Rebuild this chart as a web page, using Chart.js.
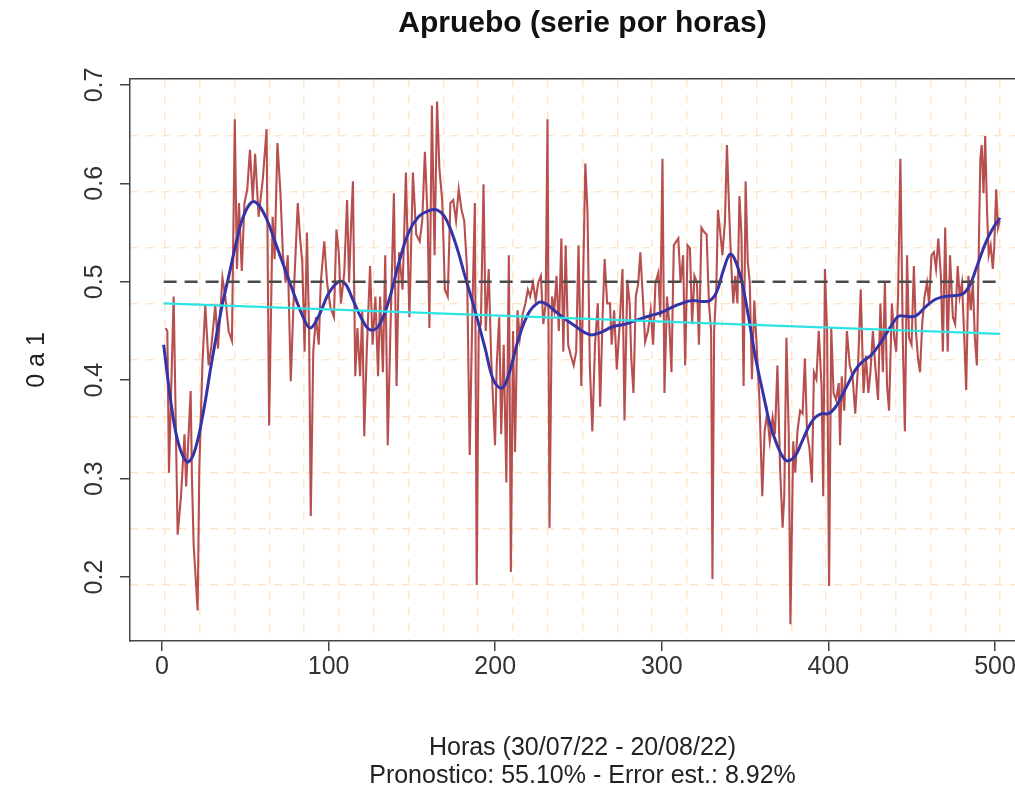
<!DOCTYPE html>
<html>
<head>
<meta charset="utf-8">
<script src="https://cdn.jsdelivr.net/npm/chart.js@4/dist/chart.umd.min.js"></script>
<style>
  html, body { margin: 0; padding: 0; overflow: hidden; background: #ffffff; }
  canvas { display: block; }
</style>
</head>
<body>
<canvas id="chart" width="1040" height="793"></canvas>
<script>
// Axis ticks and ranges
const hourTicks = [0, 100, 200, 300, 400, 500];
const levelTicks = [0.2, 0.3, 0.4, 0.5, 0.6, 0.7];
const hourRange = [-19.2, 524];
const levelRange = [0.135, 0.706];
const gridColumns = 26;
const gridRows = 10;

// Hourly series (hour, share 0..1)
const rawHours = [
  2.1,3.2,4.2,7,9.4,11.4,13.5,14.5,17.2,18,19,21.4,22.4,24.3,26,28,29.6,32,33.6,36.3,38,40,42,43.7,45,46.2,47.9,49.5,51.2,52.8,54.5,55.9,58,60.5,
  62.8,64.3,66.4,67.6,69.3,71.1,72.6,74.2,75.5,77.3,79.4,81.5,82.9,84.2,85.6,87,88.3,89.3,90.8,92.4,94.1,95.3,97.4,99.1,101.1,103.2,104.7,106.1,107.4,109.4,111.1,112.3,113.6,114.6,116,117.3,118.9,120.2,121.4,122.9,124.9,126.4,128.1,129.7,
  130.9,132.6,134,135.5,137.1,139.2,140.8,142.3,144.4,146.4,148.5,150.6,152.6,154.7,156.2,157.8,159.5,160.5,162,163.6,165.1,166.5,168.2,169.8,171.5,173.1,174.8,176.5,178.1,179.8,181.4,183.1,184.7,186.4,187.8,188.9,190.1,191.4,193,194.3,196.1,197.6,
  199.9,200.9,202.4,203.6,205.1,206.7,208.2,209.4,210.7,211.9,213.4,214.8,216.5,218.1,219.6,221,222.7,224.3,225.8,227.4,228.9,230.3,231.4,232.6,234.1,235.5,236.8,238.2,239.7,240.9,242.3,243.8,245.4,247.1,248.6,250,251.7,252.9,254.1,255.4,256.8,258.3,259.9,261.6,263,264.5,265.7,267.2,
  268.9,269.9,271.4,273,274.7,276.4,277.6,279.3,280.7,281.7,283,284.4,285.9,287.1,288.6,290,291.7,293.3,294.8,296.2,297.9,299.1,300.4,301.6,303.1,304.5,305.8,307.2,308.7,309.9,311.3,312.8,314,315.5,316.9,318.2,319.6,321.1,322.3,323.8,325.2,326.9,328.3,329.6,330.4,331.4,332.7,333.7,335.2,336.4,
  337.9,339.1,340.4,341.6,342.9,344.1,345.4,346.6,347.8,349.1,350.3,351.6,352.8,354.1,355.5,356.9,358.6,360.3,361.7,363.2,364.8,366.5,367.9,369.4,371,372.5,373.5,374.8,376.2,377.2,378.9,380.1,381.4,383,384.5,385.9,387.2,388.6,390.1,391.3,392.8,394.2,395.9,396.9,397.9,399.2,400.4,401.7,403.1,404.6,406.2,
  407,408,409.5,411.1,412.8,414.5,416.1,417.8,419.4,421.1,422.5,424,425.2,426.7,428.1,429.8,431.2,432.7,433.9,435.2,436.4,438.1,439.5,440.7,441.8,443.2,444.7,445.9,447.2,448.4,449.9,451.3,452.5,453.8,455,456.3,457.7,459.2,460.4,461.9,463.3,464.6,466,467.5,468.7,470.1,471.6,
  473,474.7,476.1,477.6,478.8,480.2,481.7,482.7,484,485.4,486.7,487.9,489.1,490.4,491.2,492,493.1,494.1,495.2,496.2,497.4,498.7,499.5,500.7,501.8,502.8
];
const rawValues = [
  0.453,0.45,0.306,0.485,0.243,0.282,0.345,0.292,0.389,0.299,0.233,0.166,0.31,0.418,0.476,0.415,0.434,0.476,0.432,0.504,0.485,0.45,0.44,0.665,0.513,0.58,0.511,0.58,0.594,0.634,0.583,0.63,0.566,0.604,
  0.655,0.354,0.566,0.523,0.641,0.59,0.527,0.499,0.527,0.399,0.499,0.58,0.544,0.52,0.429,0.55,0.45,0.262,0.429,0.464,0.436,0.499,0.541,0.499,0.474,0.464,0.553,0.53,0.478,0.509,0.583,0.499,0.562,0.602,0.404,0.453,0.404,0.471,0.343,0.429,0.516,0.436,0.485,0.404,
  0.485,0.408,0.527,0.334,0.45,0.59,0.394,0.53,0.492,0.611,0.464,0.611,0.548,0.541,0.562,0.632,0.562,0.453,0.679,0.527,0.683,0.615,0.583,0.492,0.485,0.58,0.583,0.562,0.594,0.573,0.562,0.513,0.324,0.478,0.58,0.192,0.45,0.457,0.599,0.45,0.513,0.422,
  0.334,0.415,0.464,0.345,0.436,0.296,0.527,0.205,0.45,0.327,0.471,0.443,0.467,0.478,0.492,0.485,0.499,0.481,0.499,0.506,0.457,0.478,0.665,0.25,0.485,0.471,0.506,0.45,0.544,0.429,0.537,0.436,0.425,0.415,0.429,0.537,0.394,0.513,0.62,0.571,0.415,0.348,0.436,0.478,0.373,0.467,0.523,0.478,
  0.478,0.436,0.471,0.411,0.457,0.513,0.359,0.502,0.478,0.422,0.387,0.485,0.499,0.53,0.485,0.439,0.45,0.471,0.436,0.499,0.509,0.464,0.625,0.387,0.485,0.457,0.408,0.537,0.541,0.544,0.499,0.527,0.415,0.537,0.534,0.457,0.506,0.499,0.436,0.555,0.551,0.548,0.478,0.45,0.198,0.45,0.492,0.573,0.548,0.527,
  0.562,0.639,0.573,0.52,0.478,0.506,0.478,0.587,0.548,0.394,0.602,0.52,0.499,0.401,0.481,0.436,0.38,0.282,0.348,0.366,0.338,0.362,0.345,0.415,0.31,0.25,0.282,0.443,0.345,0.152,0.338,0.306,0.348,0.369,0.366,0.422,0.345,0.331,0.296,0.408,0.401,0.45,0.394,0.282,0.513,0.45,0.191,0.453,0.387,0.38,0.397,
  0.334,0.404,0.369,0.45,0.415,0.404,0.366,0.415,0.492,0.387,0.425,0.387,0.408,0.45,0.415,0.38,0.478,0.408,0.499,0.394,0.369,0.478,0.443,0.429,0.485,0.625,0.436,0.348,0.527,0.443,0.436,0.516,0.45,0.422,0.408,0.457,0.485,0.499,0.478,0.527,0.53,0.513,0.544,0.506,0.429,0.555,0.429,
  0.527,0.464,0.457,0.516,0.485,0.499,0.436,0.39,0.506,0.471,0.499,0.443,0.415,0.548,0.625,0.639,0.59,0.648,0.573,0.527,0.537,0.513,0.534,0.594,0.555,0.562
];

// Smoothed curve
const smoothHours = [
  1,6,10,15,19,24,30,36,40,45,49,54,58,63,68,74,80,85,89,94,100,106,110,114,120,125,130,136,142,148,154,160,165,170,176,182,188,194,199,204,208,214,220,226,230,236,242,248,253,258,264,270,278,285,292,300,306,312,318,324,329,333,337,341,344,348,352,356,361,365,369,373,376,380,384,388,392,396,400,404,408,412,416,420,426,432,438,442,446,452,458,464,470,476,481,485,489,494,498,503
];
const smoothValues = [
  0.436,0.37,0.335,0.317,0.325,0.36,0.42,0.475,0.505,0.543,0.567,0.581,0.578,0.563,0.54,0.512,0.484,0.463,0.453,0.465,0.488,0.5,0.498,0.484,0.462,0.451,0.455,0.48,0.518,0.55,0.566,0.572,0.573,0.565,0.54,0.505,0.47,0.432,0.4,0.392,0.405,0.442,0.468,0.479,0.478,0.47,0.462,0.455,0.449,0.446,0.449,0.454,0.457,0.461,0.465,0.469,0.474,0.478,0.481,0.48,0.481,0.49,0.512,0.528,0.522,0.5,0.465,0.425,0.385,0.355,0.335,0.321,0.318,0.323,0.337,0.352,0.362,0.366,0.366,0.372,0.384,0.397,0.41,0.418,0.426,0.44,0.456,0.465,0.465,0.465,0.474,0.482,0.485,0.486,0.488,0.497,0.515,0.538,0.552,0.565
];

// Linear trend and 50% reference
const trendHours = [1, 503];
const trendValues = [0.478, 0.447];
const refHours = [1, 503];
const refValues = [0.5, 0.5];

const FONT = '"Liberation Sans", Arial, Helvetica, sans-serif';
Chart.defaults.font.family = FONT;

const pairs = (xs, ys) => xs.map((x, i) => ({ x: x, y: ys[i] }));
const fixedTicks = vals => scale => { scale.ticks = vals.map(v => ({ value: v })); };
const divisionTicks = n => scale => {
  const t = [];
  for (let k = 1; k < n; k++) t.push({ value: scale.min + k * (scale.max - scale.min) / n });
  scale.ticks = t;
};

const axisColor = '#444444';
const gridColor = '#FFE3C6';

new Chart(document.getElementById('chart'), {
  type: 'line',
  data: {
    datasets: [
      { data: pairs(refHours, refValues), borderColor: '#4a4a4a', borderWidth: 2.6, borderDash: [13, 8], pointRadius: 0 },
      { data: pairs(trendHours, trendValues), borderColor: '#2EE3E3', borderWidth: 2.3, pointRadius: 0 },
      { data: pairs(smoothHours, smoothValues), borderColor: '#3434A8', borderWidth: 3, pointRadius: 0, tension: 0.4 },
      { data: pairs(rawHours, rawValues), borderColor: 'rgba(172,48,48,0.85)', borderWidth: 2.1, pointRadius: 0, tension: 0 }
    ]
  },
  options: {
    responsive: false,
    animation: false,
    layout: { padding: { left: 0, right: 5, top: 0, bottom: 0 } },
    plugins: { legend: { display: false }, tooltip: { enabled: false }, title: { display: false } },
    scales: {
      x: {
        type: 'linear', position: 'bottom', min: hourRange[0], max: hourRange[1],
        afterBuildTicks: fixedTicks(hourTicks),
        afterFit: s => { s.height = 152; },
        ticks: { autoSkip: false, maxRotation: 0, padding: 1, color: '#333333', font: { size: 25 }, callback: v => String(v) },
        grid: { drawOnChartArea: false, drawTicks: true, tickLength: 10, color: axisColor, lineWidth: 1.5 },
        border: { display: true, color: axisColor, width: 1.5 },
        title: {
          display: true,
          text: ['Horas (30/07/22 - 20/08/22)', 'Pronostico: 55.10% - Error est.: 8.92%'],
          color: '#222222', font: { size: 25, lineHeight: 1.12 }, padding: { top: 0, bottom: 3 }
        }
      },
      y: {
        type: 'linear', position: 'left', min: levelRange[0], max: levelRange[1],
        afterBuildTicks: fixedTicks(levelTicks),
        afterFit: s => { s.width = 130; },
        ticks: { minRotation: 90, maxRotation: 90, crossAlign: 'center', padding: 8, color: '#333333', font: { size: 25 }, callback: v => v.toFixed(1) },
        grid: { drawOnChartArea: false, drawTicks: true, tickLength: 10, color: axisColor, lineWidth: 1.5 },
        border: { display: true, color: axisColor, width: 1.5 },
        title: { display: true, text: '0 a 1', color: '#222222', font: { size: 25, lineHeight: 1.12 }, padding: { top: 23, bottom: 0 } }
      },
      frameTop: {
        type: 'linear', position: 'top', weight: 1, min: hourRange[0], max: hourRange[1],
        afterBuildTicks: fixedTicks([]),
        afterFit: s => { s.height = 79; },
        ticks: { display: false },
        grid: { display: false },
        border: { display: true, color: axisColor, width: 1.5 },
        title: { display: true, text: 'Apruebo (serie por horas)', color: '#111111', font: { size: 30, weight: 'bold', lineHeight: 1.2 }, padding: { top: 6, bottom: 0 } }
      },
      gridX: {
        type: 'linear', position: 'top', weight: 0, min: hourRange[0], max: hourRange[1],
        afterBuildTicks: divisionTicks(gridColumns),
        afterFit: s => { s.height = 0; },
        ticks: { display: false },
        grid: { drawTicks: false, tickLength: 0, color: gridColor, lineWidth: 1.4 },
        border: { display: false, dash: [8, 8] }
      },
      gridY: {
        type: 'linear', position: 'right', min: levelRange[0], max: levelRange[1],
        afterBuildTicks: divisionTicks(gridRows),
        afterFit: s => { s.width = 0; },
        ticks: { display: false },
        grid: { drawTicks: false, tickLength: 0, color: gridColor, lineWidth: 1.4 },
        border: { display: false, dash: [8, 8] }
      }
    }
  }
});
</script>
</body>
</html>
